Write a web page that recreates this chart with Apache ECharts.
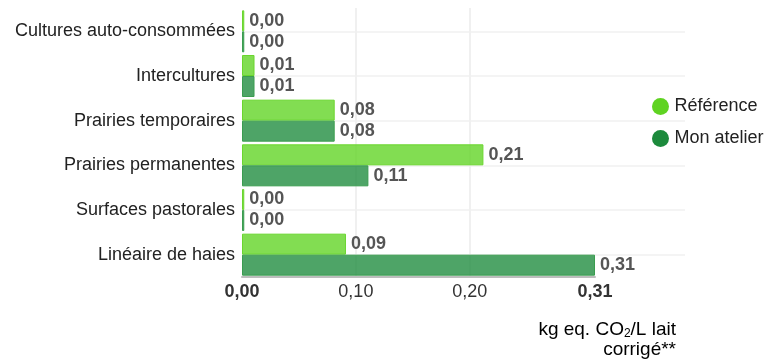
<!DOCTYPE html>
<html><head><meta charset="utf-8">
<script src="https://cdn.jsdelivr.net/npm/echarts@6/dist/echarts.min.js"></script>
<style>html,body{margin:0;padding:0;background:#fff}#c{width:764px;height:361px}</style>
</head><body><div id="c"></div>
<script>
var categories = ['Cultures auto-consommées','Intercultures','Prairies temporaires','Prairies permanentes','Surfaces pastorales','Linéaire de haies'];
var seriesNames = ['Référence','Mon atelier'];
var refValues = [0.002, 0.011, 0.0814, 0.212, 0.002, 0.0913];
var mineValues = [0.002, 0.011, 0.0814, 0.111, 0.002, 0.31];
var xTickValues = [0, 0.1, 0.2, 0.31];
var boldTicks = [0, 0.31];
var FONT = 'Liberation Sans, Arial, sans-serif';
function fmt(v){ return v.toFixed(2).replace('.', ','); }

var chart = echarts.init(document.getElementById('c'));
var option = {
  animation: false,
  textStyle: {fontFamily: FONT},
  grid: [
    {left: 242, right: 169, top: 9, bottom: 84},
    {left: 242, right: 294.3, top: 8, bottom: 84},
    {left: 242, right: 79, top: 31.3, bottom: 106.3}
  ],
  xAxis: [
    {gridIndex: 0, type: 'value', min: 0, max: 0.31,
     axisLine: {show: true, lineStyle: {color: '#bdbdbd', width: 2}},
     axisTick: {show: false}, splitLine: {show: false},
     axisLabel: {customValues: xTickValues, margin: 6, fontSize: 18, color: '#333', fontFamily: FONT,
       formatter: function(v){ var s = fmt(v); return boldTicks.indexOf(v) >= 0 ? '{b|' + s + '}' : s; },
       rich: {b: {fontWeight: 'bold', fontSize: 18, color: '#333', fontFamily: FONT}}}},
    {gridIndex: 1, type: 'value', min: 0, max: 0.2, interval: 0.1,
     axisLine: {show: false}, axisTick: {show: false}, axisLabel: {show: false},
     splitLine: {show: true, showMinLine: false, lineStyle: {color: '#f0f0f0', width: 2}}},
    {gridIndex: 2, type: 'value', min: 0, max: 1,
     axisLine: {show: false}, axisTick: {show: false}, axisLabel: {show: false}, splitLine: {show: false}}
  ],
  yAxis: [
    {gridIndex: 0, type: 'category', data: categories, inverse: true,
     axisLine: {show: false}, axisTick: {show: false},
     axisLabel: {fontSize: 18, color: '#222', margin: 7, fontFamily: FONT}},
    {gridIndex: 1, type: 'value', min: 0, max: 1,
     axisLine: {show: false}, axisTick: {show: false}, axisLabel: {show: false}, splitLine: {show: false}},
    {gridIndex: 2, type: 'value', min: 0, max: 5, interval: 1,
     axisLine: {show: false}, axisTick: {show: false}, axisLabel: {show: false},
     splitLine: {show: true, lineStyle: {color: '#f0f0f0', width: 1.5}}}
  ],
  legend: {
    orient: 'vertical', left: 652, top: 97.5, padding: 0, icon: 'circle',
    itemWidth: 18, itemHeight: 17, itemGap: 14, itemTextGap: 2,
    textStyle: {fontSize: 18, color: '#222', fontFamily: FONT},
    data: [
      {name: seriesNames[0], itemStyle: {color: '#5fd321', opacity: 1, borderWidth: 0}},
      {name: seriesNames[1], itemStyle: {color: '#1c8a3c', opacity: 1, borderWidth: 0}}
    ]
  },
  series: [
    {name: seriesNames[0], type: 'bar', xAxisIndex: 0, yAxisIndex: 0, data: refValues,
     barWidth: 21, barGap: '0%', z: 3,
     itemStyle: {color: 'rgba(95,211,33,0.78)', borderColor: '#6ad62e', borderWidth: 1},
     label: {show: true, position: 'right', distance: 5, fontSize: 18, fontWeight: 'bold', color: '#555', fontFamily: FONT,
       formatter: function(p){ return fmt(p.value); }}},
    {name: seriesNames[1], type: 'bar', xAxisIndex: 0, yAxisIndex: 0, data: mineValues,
     barWidth: 21, barGap: '0%', z: 3,
     itemStyle: {color: 'rgba(28,138,60,0.78)', borderColor: '#3a9d4f', borderWidth: 1},
     label: {show: true, position: 'right', distance: 5, fontSize: 18, fontWeight: 'bold', color: '#555', fontFamily: FONT,
       formatter: function(p){ return fmt(p.value); }}}
  ],
  graphic: [{
    type: 'text', right: 88, top: 320,
    style: {
      text: '{a|kg eq. CO}{s|2}{a|/L lait}\n{a|corrigé**}',
      align: 'right',
      rich: {
        a: {fontSize: 19, color: '#222', fontFamily: FONT, lineHeight: 20, align: 'right'},
        s: {fontSize: 12, color: '#222', fontFamily: FONT, lineHeight: 20, verticalAlign: 'bottom', padding: [8,0,0,0]}
      }
    }
  }]
};
chart.setOption(option);
</script></body></html>
